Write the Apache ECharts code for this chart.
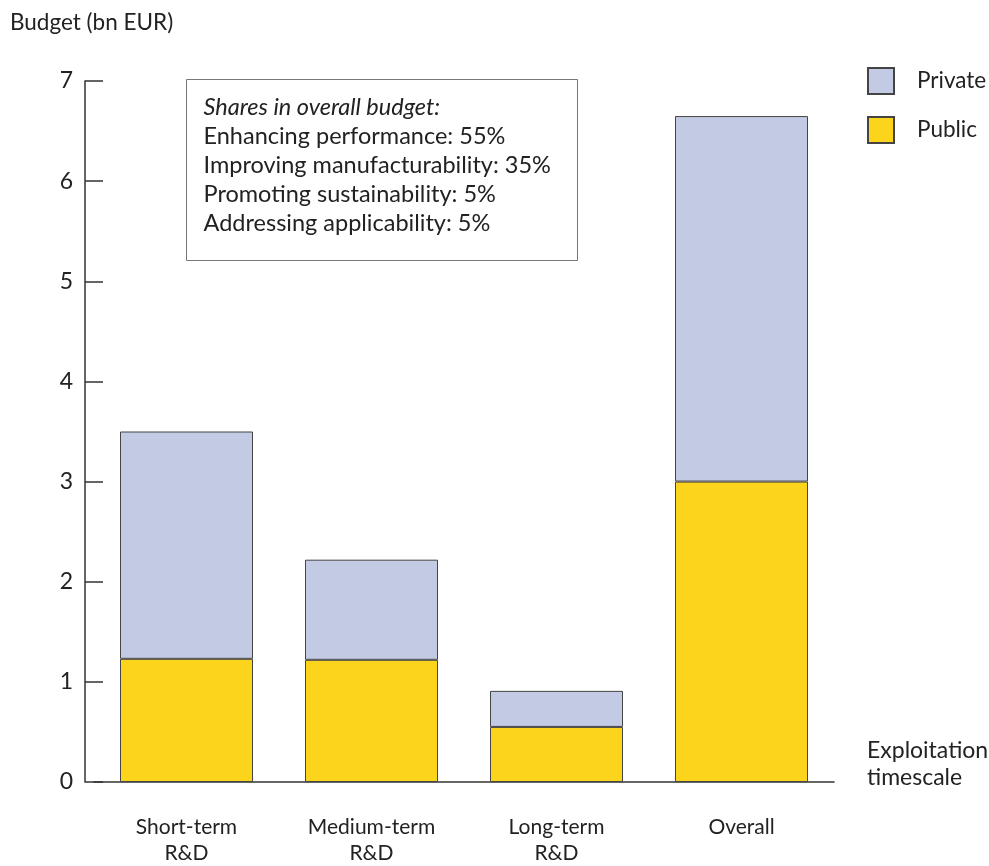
<!DOCTYPE html>
<html>
<head>
<meta charset="utf-8">
<script src="https://cdn.jsdelivr.net/npm/echarts@6/dist/echarts.min.js"></script>
<style>html,body{margin:0;padding:0;background:#fff}#c{width:989px;height:866px}</style>
</head>
<body>
<div id="c"></div>
<script>
const categories = ['Short-term\nR&D', 'Medium-term\nR&D', 'Long-term\nR&D', 'Overall'];
const publicValues = [1.23, 1.22, 0.55, 3.0];
const privateValues = [2.27, 1.0, 0.36, 3.65];
const boxTitle = 'Shares in overall budget:';
const boxLines = [
  'Enhancing performance: 55%',
  'Improving manufacturability: 35%',
  'Promoting sustainability: 5%',
  'Addressing applicability: 5%'
];
const xAxisTitle = 'Exploitation\ntimescale';
const FONT = 'Lato';
const TXT = '#222';
const chart = echarts.init(document.getElementById('c'), null, {renderer: 'canvas'});
chart.setOption({
  animation: false,
  backgroundColor: '#fff',
  textStyle: {fontFamily: FONT, color: TXT},
  title: {
    text: 'Budget (bn EUR)', left: 10, top: 11, padding: 0,
    textStyle: {fontFamily: FONT, fontSize: 22.5, fontWeight: 'normal', color: TXT}
  },
  legend: {
    orient: 'vertical', left: 867, top: 67, padding: 0,
    itemWidth: 26, itemHeight: 26, itemGap: 21,
    icon: 'rect',
    data: ['Private', 'Public'],
    textStyle: {fontFamily: FONT, fontSize: 22.5, color: TXT, padding: [0, 0, 0, 18]}
  },
  grid: {left: 94, right: 155, top: 81, bottom: 84, containLabel: false},
  xAxis: {
    type: 'category',
    data: categories,
    axisLine: {lineStyle: {color: '#333', width: 1.5}},
    axisTick: {inside: true, length: 16, lineStyle: {color: '#333', width: 1.5}, interval: function (i) { return i > 0; }},
    axisLabel: {fontFamily: FONT, fontSize: 21, color: TXT, margin: 32, lineHeight: 26, interval: 0}
  },
  yAxis: {
    type: 'value', min: 0, max: 7, interval: 1,
    offset: 9,
    axisLine: {show: true, lineStyle: {color: '#333', width: 1.5}},
    axisTick: {show: true, inside: true, length: 18, lineStyle: {color: '#333', width: 1.5}},
    axisLabel: {fontFamily: FONT, fontSize: 23, color: TXT, margin: 12},
    splitLine: {show: false}
  },
  graphic: [{
    type: 'group', left: 186, top: 79,
    children: [
      {type: 'rect', shape: {x: 0, y: 0, width: 391, height: 181}, style: {fill: '#fff', stroke: '#777', lineWidth: 1}},
      {type: 'text', x: 17, y: 13, style: {
        text: '{i|' + boxTitle + '}\n' + boxLines.map(l => '{n|' + l + '}').join('\n'),
        rich: {
          i: {fontFamily: FONT, fontSize: 23.5, fontStyle: 'italic', lineHeight: 29, fill: TXT},
          n: {fontFamily: FONT, fontSize: 23.5, lineHeight: 29, fill: TXT}
        },
        fill: TXT
      }}
    ]
  }, {
    type: 'text', left: 867, top: 737,
    style: {text: xAxisTitle, fontFamily: FONT, fontSize: 23, lineHeight: 27, fill: TXT}
  }],
  series: [
    {
      name: 'Public', type: 'bar', stack: 'b', barWidth: 133, data: publicValues,
      itemStyle: {color: '#FCD41C', borderColor: '#444', borderWidth: 1}
    },
    {
      name: 'Private', type: 'bar', stack: 'b', barWidth: 133, data: privateValues,
      itemStyle: {color: '#C3CAE3', borderColor: '#444', borderWidth: 1}
    }
  ]
});
</script>
</body>
</html>
